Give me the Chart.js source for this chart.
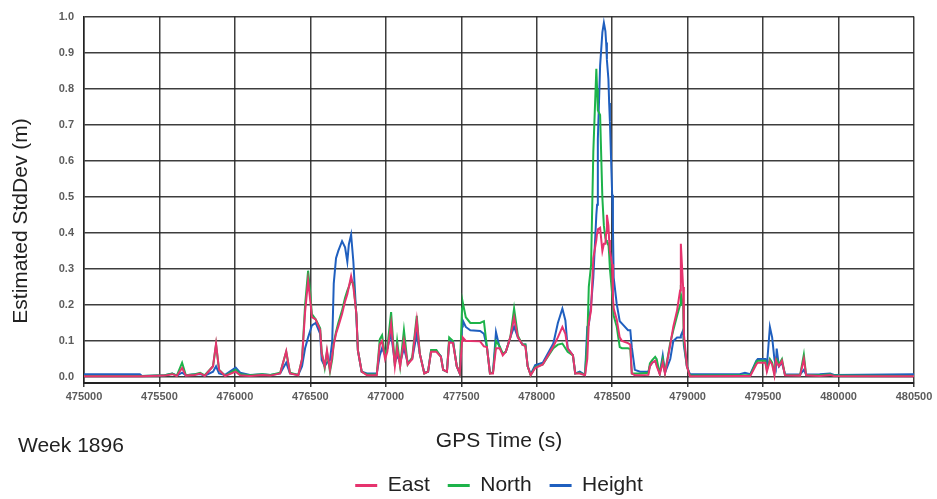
<!DOCTYPE html>
<html lang="en">
<head>
<meta charset="UTF-8" />
<meta name="viewport" content="width=device-width, initial-scale=1.0" />
<title>Estimated StdDev - Week 1896</title>
<script src="https://cdn.jsdelivr.net/npm/chart.js@4"></script>
<style>
  html, body { margin: 0; padding: 0; background: #fff; }
  .chart-container { position: relative; width: 937px; height: 499px; }
</style>
</head>
<body>
<div class="chart-container"><canvas id="stdDevChart"></canvas></div>
<script>
// GPS time of week (s) shared by the three series
const gpsTime = [
  475000, 475370, 475385, 475535, 475585, 475615, 475650, 475675, 475735, 475770,
  475800, 475855, 475875, 475895, 475935, 476005, 476035, 476100, 476180, 476235,
  476300, 476340, 476365, 476420, 476445, 476465, 476485, 476500, 476510, 476535,
  476565, 476575, 476595, 476610, 476630, 476645, 476655, 476670, 476685, 476710,
  476730, 476745, 476755, 476770, 476785, 476805, 476815, 476840, 476875, 476940,
  476960, 476975, 476995, 477010, 477035, 477060, 477075, 477095, 477120, 477145,
  477175, 477205, 477225, 477255, 477280, 477300, 477335, 477365, 477380, 477405,
  477420, 477445, 477470, 477490, 477505, 477510, 477530, 477560, 477625, 477650,
  477670, 477690, 477710, 477730, 477755, 477775, 477795, 477825, 477850, 477875,
  477905, 477925, 477940, 477960, 477990, 478040, 478110, 478140, 478170, 478190,
  478205, 478240, 478255, 478285, 478320, 478335, 478345, 478360, 478375, 478395,
  478400, 478405, 478420, 478435, 478445, 478455, 478460, 478465, 478475, 478480,
  478485, 478500, 478505, 478510, 478530, 478550, 478565, 478605, 478620, 478630,
  478650, 478685, 478740, 478750, 478765, 478785, 478795, 478815, 478835, 478850,
  478885, 478905, 478930, 478950, 478955, 478970, 478975, 478995, 479015, 479345,
  479380, 479415, 479455, 479465, 479515, 479525, 479545, 479560, 479575, 479585,
  479590, 479605, 479625, 479645, 479745, 479770, 479785, 479875, 479945, 479970,
  480500
];

const east = [
  0.002, 0.002, 0.002, 0.004, 0.008, 0.003, 0.025, 0.004, 0.006, 0.010,
  0.003, 0.030, 0.093, 0.020, 0.003, 0.015, 0.005, 0.003, 0.006, 0.004,
  0.010, 0.072, 0.010, 0.005, 0.050, 0.180, 0.267, 0.210, 0.166, 0.160,
  0.130, 0.065, 0.030, 0.074, 0.020, 0.060, 0.090, 0.120, 0.140, 0.175,
  0.210, 0.230, 0.250, 0.280, 0.250, 0.175, 0.074, 0.015, 0.005, 0.005,
  0.090, 0.100, 0.050, 0.070, 0.148, 0.030, 0.080, 0.030, 0.100, 0.035,
  0.050, 0.157, 0.065, 0.010, 0.015, 0.070, 0.070, 0.056, 0.020, 0.015,
  0.096, 0.095, 0.030, 0.010, 0.100, 0.110, 0.100, 0.100, 0.099, 0.085,
  0.083, 0.010, 0.010, 0.080, 0.080, 0.060, 0.070, 0.110, 0.165, 0.110,
  0.090, 0.085, 0.030, 0.005, 0.025, 0.035, 0.085, 0.110, 0.139, 0.120,
  0.080, 0.060, 0.010, 0.010, 0.005, 0.050, 0.150, 0.185, 0.330, 0.380,
  0.400, 0.410, 0.414, 0.350, 0.370, 0.370, 0.400, 0.450, 0.420, 0.380,
  0.350, 0.313, 0.220, 0.190, 0.160, 0.110, 0.100, 0.094, 0.090, 0.010,
  0.005, 0.005, 0.006, 0.030, 0.040, 0.045, 0.030, 0.008, 0.040, 0.010,
  0.090, 0.140, 0.185, 0.240, 0.370, 0.250, 0.120, 0.030, 0.002, 0.003,
  0.003, 0.003, 0.035, 0.040, 0.040, 0.015, 0.045, 0.035, 0.005, 0.046,
  0.040, 0.030, 0.045, 0.005, 0.004, 0.050, 0.005, 0.003, 0.006, 0.003,
  0.002
];

const north = [
  0.003, 0.003, 0.003, 0.005, 0.010, 0.004, 0.040, 0.005, 0.008, 0.012,
  0.005, 0.030, 0.090, 0.020, 0.004, 0.020, 0.008, 0.005, 0.008, 0.006,
  0.012, 0.070, 0.012, 0.006, 0.050, 0.200, 0.295, 0.230, 0.175, 0.160,
  0.135, 0.070, 0.025, 0.070, 0.015, 0.050, 0.095, 0.125, 0.150, 0.185,
  0.220, 0.240, 0.250, 0.270, 0.260, 0.175, 0.074, 0.015, 0.007, 0.007,
  0.105, 0.116, 0.060, 0.080, 0.180, 0.030, 0.100, 0.030, 0.130, 0.035,
  0.055, 0.170, 0.065, 0.010, 0.015, 0.075, 0.075, 0.056, 0.020, 0.015,
  0.110, 0.100, 0.030, 0.010, 0.190, 0.207, 0.166, 0.150, 0.150, 0.155,
  0.083, 0.010, 0.012, 0.100, 0.085, 0.065, 0.070, 0.110, 0.190, 0.115,
  0.090, 0.090, 0.030, 0.005, 0.028, 0.035, 0.080, 0.090, 0.093, 0.080,
  0.070, 0.060, 0.010, 0.012, 0.006, 0.100, 0.250, 0.310, 0.625, 0.855,
  0.800, 0.740, 0.727, 0.497, 0.420, 0.386, 0.380, 0.375, 0.370, 0.340,
  0.300, 0.230, 0.200, 0.170, 0.140, 0.083, 0.080, 0.080, 0.078, 0.010,
  0.010, 0.010, 0.012, 0.038, 0.047, 0.056, 0.050, 0.010, 0.050, 0.012,
  0.095, 0.130, 0.170, 0.200, 0.230, 0.200, 0.100, 0.030, 0.004, 0.005,
  0.005, 0.005, 0.042, 0.045, 0.045, 0.020, 0.050, 0.040, 0.010, 0.050,
  0.050, 0.035, 0.050, 0.006, 0.005, 0.062, 0.006, 0.005, 0.008, 0.004,
  0.003
];

const height = [
  0.008, 0.008, 0.003, 0.005, 0.010, 0.004, 0.012, 0.005, 0.008, 0.008,
  0.004, 0.015, 0.030, 0.010, 0.006, 0.026, 0.012, 0.006, 0.008, 0.006,
  0.010, 0.040, 0.010, 0.006, 0.030, 0.080, 0.110, 0.130, 0.143, 0.150,
  0.120, 0.047, 0.030, 0.040, 0.047, 0.100, 0.260, 0.330, 0.350, 0.377,
  0.360, 0.320, 0.368, 0.395, 0.320, 0.166, 0.074, 0.015, 0.010, 0.010,
  0.060, 0.080, 0.060, 0.080, 0.120, 0.040, 0.060, 0.040, 0.080, 0.040,
  0.050, 0.120, 0.065, 0.012, 0.015, 0.073, 0.072, 0.058, 0.020, 0.015,
  0.100, 0.100, 0.030, 0.010, 0.140, 0.157, 0.139, 0.130, 0.128, 0.120,
  0.083, 0.012, 0.012, 0.125, 0.080, 0.065, 0.070, 0.110, 0.140, 0.110,
  0.090, 0.090, 0.030, 0.008, 0.033, 0.040, 0.093, 0.150, 0.190, 0.157,
  0.080, 0.060, 0.010, 0.015, 0.006, 0.139, 0.145, 0.200, 0.276, 0.450,
  0.478, 0.660, 0.864, 0.956, 0.983, 0.960, 0.928, 0.880, 0.827, 0.760,
  0.708, 0.506, 0.414, 0.276, 0.203, 0.155, 0.148, 0.130, 0.130, 0.083,
  0.020, 0.015, 0.015, 0.030, 0.040, 0.045, 0.035, 0.010, 0.060, 0.012,
  0.050, 0.100, 0.110, 0.110, 0.115, 0.130, 0.088, 0.030, 0.008, 0.008,
  0.012, 0.008, 0.045, 0.050, 0.050, 0.030, 0.139, 0.110, 0.050, 0.030,
  0.079, 0.030, 0.040, 0.008, 0.007, 0.020, 0.007, 0.008, 0.010, 0.006,
  0.008
];

const timeTicks = [475000, 475500, 476000, 476500, 477000, 477500,
  478000, 478500, 479000, 479500, 480000, 480500];
const stdDevTicks = [0.0, 0.1, 0.2, 0.3, 0.4, 0.5, 0.6, 0.7, 0.8, 0.9, 1.0];

const FONT = "'Liberation Sans', Arial, sans-serif";
const GRID = "rgba(40, 40, 40, 0.9)";
const TICK_COLOR = "#5c5c5c";
const TEXT_COLOR = "#222";

function toPoints(values) {
  return gpsTime.map((t, i) => ({ x: t, y: values[i] }));
}

// y-axis caption and the week label drawn straight onto the canvas
const sideTexts = {
  id: "sideTexts",
  afterDraw(chart) {
    const ctx = chart.ctx;
    ctx.save();
    ctx.fillStyle = TEXT_COLOR;
    ctx.font = "21px " + FONT;
    ctx.textBaseline = "middle";
    ctx.textAlign = "left";
    ctx.fillText("Week 1896", 18, 446);
    ctx.translate(21, 221);
    ctx.rotate(-Math.PI / 2);
    ctx.textAlign = "center";
    ctx.fillText("Estimated StdDev (m)", 0, 0);
    ctx.restore();
  },
};

// pointBorderWidth only feeds the legend swatch (points are hidden)
function series(label, values, color) {
  return {
    label: label,
    data: toPoints(values),
    borderColor: color,
    backgroundColor: color,
    borderWidth: 2,
    pointBorderWidth: 3,
  };
}

const ctx = document.getElementById("stdDevChart").getContext("2d");
new Chart(ctx, {
  type: "line",
  data: {
    datasets: [
      series("East", east, "#e6336e"),
      series("North", north, "#1db34a"),
      series("Height", height, "#1f5fbf"),
    ],
  },
  options: {
    responsive: true,
    maintainAspectRatio: false,
    animation: false,
    layout: { padding: { top: 14, right: 23, bottom: -7, left: 0 } },
    elements: {
      point: { radius: 0 },
      line: { tension: 0 },
    },
    scales: {
      x: {
        type: "linear",
        min: 475000,
        max: 480500,
        afterBuildTicks: (s) => { s.ticks = timeTicks.map((v) => ({ value: v })); },
        afterFit: (s) => { s.height = 74; },
        ticks: {
          callback: (v) => String(v),
          color: TICK_COLOR,
          font: { family: FONT, size: 11, weight: "bold" },
          padding: 3,
          maxRotation: 0,
          autoSkip: false,
        },
        grid: { color: GRID, lineWidth: 1.5, tickLength: 4 },
        border: { color: "#222", width: 2 },
        title: {
          display: true,
          text: "GPS Time (s)",
          color: TEXT_COLOR,
          font: { family: FONT, size: 21 },
          padding: { top: 0, bottom: 3 },
        },
      },
      y: {
        min: -0.0165,
        max: 1.0,
        afterBuildTicks: (s) => { s.ticks = stdDevTicks.map((v) => ({ value: v })); },
        afterFit: (s) => { s.width = 84; },
        ticks: {
          callback: (v) => v.toFixed(1),
          color: TICK_COLOR,
          font: { family: FONT, size: 11, weight: "bold" },
          padding: 10,
        },
        grid: { color: GRID, lineWidth: 1.5, drawTicks: false },
        border: { color: "#222", width: 1.5 },
      },
    },
    plugins: {
      legend: {
        position: "bottom",
        fullSize: false,
        labels: {
          usePointStyle: true,
          pointStyle: "line",
          pointStyleWidth: 22,
          padding: 18,
          color: TEXT_COLOR,
          font: { family: FONT, size: 21 },
        },
      },
      tooltip: { enabled: false },
    },
  },
  plugins: [sideTexts],
});
</script>
</body>
</html>
